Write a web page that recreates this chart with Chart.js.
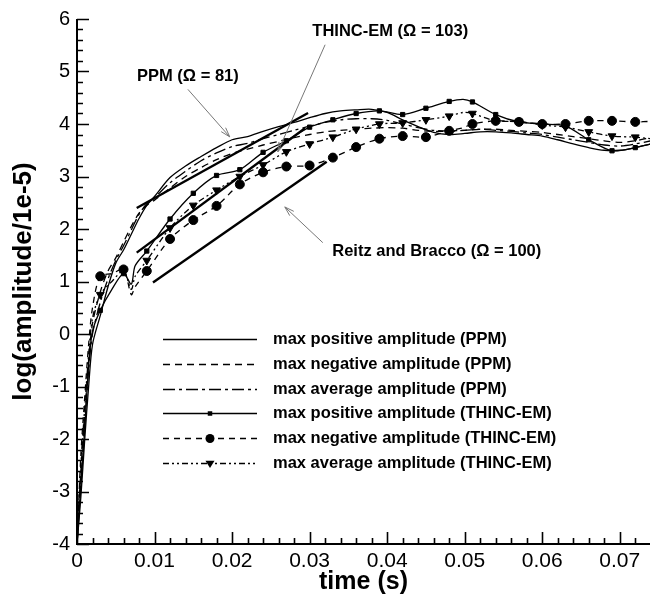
<!DOCTYPE html>
<html>
<head>
<meta charset="utf-8">
<script src="https://cdn.jsdelivr.net/npm/chart.js@4.4.1/dist/chart.umd.min.js"></script>
<style>
  html, body { margin: 0; padding: 0; background: #fff; }
  #wrap { width: 651px; height: 597px; }
</style>
</head>
<body>
<div id="wrap"><canvas id="myChart" width="651" height="597"></canvas></div>
<script>
// time (s) for the PPM curves
var ppmX = [0, 0.0005, 0.001, 0.0015, 0.002, 0.003, 0.004, 0.005, 0.006, 0.007, 0.008, 0.009, 0.010,
  0.012, 0.014, 0.016, 0.018, 0.020, 0.022, 0.024, 0.026, 0.028, 0.030, 0.032, 0.034, 0.036, 0.038,
  0.040, 0.042, 0.044, 0.046, 0.048, 0.050, 0.052, 0.054, 0.056, 0.058, 0.060, 0.062, 0.064, 0.066,
  0.068, 0.070, 0.072, 0.074];
var ppmPos = [-4, -3.1, -2.0, -1.0, -0.2, 0.35, 0.9, 1.35, 1.6, 1.9, 2.2, 2.45, 2.62,
  2.98, 3.2, 3.38, 3.55, 3.7, 3.76, 3.86, 3.95, 4.03, 4.12, 4.2, 4.25, 4.27, 4.28,
  4.22, 4.08, 3.95, 3.84, 3.8, 3.82, 3.85, 3.85, 3.83, 3.8, 3.77, 3.7, 3.62, 3.55,
  3.5, 3.5, 3.55, 3.62];
var ppmNeg = [-4, -2.6, -1.5, -0.5, 0.2, 0.8, 1.2, 1.45, 1.75, 2.05, 2.3, 2.45, 2.55,
  2.78, 3.0, 3.17, 3.32, 3.44, 3.52, 3.6, 3.67, 3.74, 3.8, 3.85, 3.88, 3.9, 3.92,
  3.93, 3.92, 3.88, 3.86, 3.86, 3.88, 3.9, 3.9, 3.88, 3.86, 3.84, 3.8, 3.76, 3.72,
  3.68, 3.65, 3.68, 3.74];
var ppmAvg = [-4, -2.8, -1.7, -0.7, 0.0, 0.6, 1.05, 1.4, 1.68, 1.98, 2.28, 2.48, 2.6,
  2.88, 3.1, 3.3, 3.45, 3.57, 3.63, 3.72, 3.8, 3.88, 3.96, 4.03, 4.08, 4.1, 4.1,
  4.07, 4.0, 3.93, 3.88, 3.87, 3.88, 3.9, 3.88, 3.86, 3.83, 3.8, 3.75, 3.7, 3.65,
  3.6, 3.58, 3.62, 3.68];

// time (s) for the THINC-EM curves (markers every 0.003 s)
var thincX = [0, 0.0005, 0.001, 0.0015, 0.002, 0.003, 0.0045, 0.006, 0.007, 0.0075, 0.009,
  0.012, 0.015, 0.018, 0.021, 0.024, 0.027, 0.030, 0.033, 0.036, 0.039, 0.042, 0.045,
  0.048, 0.0498, 0.051, 0.054, 0.057, 0.060, 0.063, 0.066, 0.069, 0.072, 0.074];
var thincPos = [-4, -2.9, -1.8, -0.6, 0.05, 0.45, 0.85, 1.15, 0.95, 1.3, 1.58,
  2.19, 2.68, 3.02, 3.13, 3.46, 3.68, 3.94, 4.08, 4.2, 4.25, 4.18, 4.3,
  4.43, 4.47, 4.42, 4.18, 4.04, 4.0, 3.96, 3.7, 3.49, 3.55, 3.62];
var thincNeg = [-4, -2.3, -1.2, -0.2, 0.5, 1.1, 1.15, 1.23, 0.75, 0.9, 1.2,
  1.81, 2.17, 2.44, 2.85, 3.08, 3.19, 3.21, 3.36, 3.56, 3.72, 3.77, 3.75,
  3.87, 3.93, 4.0, 4.06, 4.04, 4.0, 4.0, 4.06, 4.06, 4.04, 4.05];
var thincAvg = [-4, -2.5, -1.4, -0.4, 0.3, 0.75, 1.0, 1.2, 0.85, 1.1, 1.4,
  2.02, 2.45, 2.74, 3.0, 3.22, 3.47, 3.62, 3.75, 3.9, 4.0, 4.02, 4.08,
  4.15, 4.22, 4.2, 4.06, 4.05, 3.98, 3.94, 3.85, 3.77, 3.75, 3.72];

// straight growth-rate lines
var ppmFitX = [0.0077, 0.0298], ppmFitY = [2.40, 4.21];
var thincFitX = [0.0077, 0.0294], thincFitY = [1.55, 3.92];
var reitzX = [0.0098, 0.0322], reitzY = [0.98, 3.28];

var legendLabels = [
  'max positive amplitude (PPM)',
  'max negative amplitude (PPM)',
  'max average amplitude (PPM)',
  'max positive amplitude (THINC-EM)',
  'max negative amplitude (THINC-EM)',
  'max average amplitude (THINC-EM)'
];

// text notes with arrows: label position, arrow tail, arrow tip (data coords)
var notes = [
  { text: 'PPM (\u03A9 = 81)', x: 0.0143, y: 4.91, tail: [0.0143, 4.66], tip: [0.0197, 3.755] },
  { text: 'THINC-EM (\u03A9 = 103)', x: 0.0404, y: 5.77, tail: [0.0320, 5.51], tip: [0.0259, 3.47] },
  { text: 'Reitz and Bracco (\u03A9 = 100)', x: 0.0464, y: 1.57, tail: [0.0317, 1.74], tip: [0.0268, 2.42] }
];

var FONT = '"Liberation Sans", Arial, sans-serif';

function pts(xs, ys) {
  return xs.map(function (x, i) { return { x: x, y: ys[i] }; });
}
function isMarker(x) {
  var k = x / 0.003;
  return x > 0 && Math.abs(k - Math.round(k)) < 1e-6;
}
function markerSize(r) {
  return function (c) { return c.raw && isMarker(c.raw.x) ? r : 0; };
}

function curve(data, dash, style, r, rot) {
  return {
    data: data,
    showLine: true,
    borderColor: '#000',
    backgroundColor: '#000',
    borderWidth: 1.3,
    borderDash: dash,
    tension: 0.3,
    pointStyle: style || 'circle',
    pointRotation: rot || 0,
    pointRadius: style ? markerSize(r) : 0,
    pointBorderWidth: 1,
    pointBackgroundColor: '#000',
    legendMark: style ? { style: style, r: r, rot: rot || 0 } : null
  };
}
function fitLine(xs, ys) {
  return {
    data: pts(xs, ys), showLine: true, borderColor: '#000', borderWidth: 2.4,
    pointRadius: 0, tension: 0
  };
}

function drawMark(ctx, m, x, y) {
  ctx.save();
  ctx.fillStyle = '#000';
  ctx.setLineDash([]);
  ctx.beginPath();
  if (m.style === 'rect') {
    ctx.rect(x - m.r * 0.75, y - m.r * 0.75, m.r * 1.5, m.r * 1.5);
  } else if (m.style === 'triangle') {
    ctx.moveTo(x - m.r, y - m.r * 0.6);
    ctx.lineTo(x + m.r, y - m.r * 0.6);
    ctx.lineTo(x, y + m.r);
    ctx.closePath();
  } else {
    ctx.arc(x, y, m.r, 0, Math.PI * 2);
  }
  ctx.fill();
  ctx.restore();
}

var decor = {
  id: 'decor',
  afterDraw: function (chart) {
    var ctx = chart.ctx, a = chart.chartArea;
    var sx = chart.scales.x, sy = chart.scales.y;
    ctx.save();
    ctx.strokeStyle = '#000';
    ctx.setLineDash([]);

    // axes lines
    ctx.lineWidth = 2;
    ctx.beginPath();
    ctx.moveTo(a.left, a.top);
    ctx.lineTo(a.left, a.bottom);
    ctx.lineTo(a.right, a.bottom);
    ctx.stroke();

    // inward ticks, major + minor
    ctx.lineWidth = 1.6;
    ctx.beginPath();
    for (var i = 0; i <= 50; i++) {
      var v = -4 + i * 0.2;
      var py = Math.round(sy.getPixelForValue(v)) + 0.5;
      var len = i % 5 === 0 ? 12 : 6;
      ctx.moveTo(a.left, py);
      ctx.lineTo(a.left + len, py);
    }
    for (var j = 0; j <= 37; j++) {
      var px = Math.round(sx.getPixelForValue(j * 0.002)) + 0.5;
      if (px > a.right) break;
      var l2 = j % 5 === 0 ? 12 : 6;
      ctx.moveTo(px, a.bottom);
      ctx.lineTo(px, a.bottom - l2);
    }
    ctx.stroke();

    // notes and arrows
    ctx.font = 'bold 16.5px ' + FONT;
    ctx.textAlign = 'center';
    ctx.textBaseline = 'middle';
    ctx.fillStyle = '#000';
    notes.forEach(function (n) {
      ctx.fillText(n.text, sx.getPixelForValue(n.x), sy.getPixelForValue(n.y));
      var x1 = sx.getPixelForValue(n.tail[0]), y1 = sy.getPixelForValue(n.tail[1]);
      var x2 = sx.getPixelForValue(n.tip[0]), y2 = sy.getPixelForValue(n.tip[1]);
      var ang = Math.atan2(y2 - y1, x2 - x1);
      ctx.strokeStyle = '#777';
      ctx.lineWidth = 1;
      ctx.beginPath();
      ctx.moveTo(x1, y1);
      ctx.lineTo(x2, y2);
      ctx.moveTo(x2 - 10 * Math.cos(ang - 0.3), y2 - 10 * Math.sin(ang - 0.3));
      ctx.lineTo(x2, y2);
      ctx.lineTo(x2 - 10 * Math.cos(ang + 0.3), y2 - 10 * Math.sin(ang + 0.3));
      ctx.stroke();
    });

    // legend inside the plot
    ctx.textAlign = 'left';
    ctx.font = 'bold 16.5px ' + FONT;
    for (var k = 0; k < legendLabels.length; k++) {
      var ds = chart.data.datasets[k];
      var ly = Math.round(a.top + 320 + k * 24.8) + 0.5;
      var lx0 = a.left + 86, lx1 = a.left + 180;
      ctx.strokeStyle = '#000';
      ctx.lineWidth = 1.3;
      ctx.setLineDash(ds.borderDash || []);
      ctx.beginPath();
      ctx.moveTo(lx0, ly);
      ctx.lineTo(lx1, ly);
      ctx.stroke();
      ctx.setLineDash([]);
      if (ds.legendMark) drawMark(ctx, ds.legendMark, (lx0 + lx1) / 2, ly);
      ctx.fillStyle = '#000';
      ctx.fillText(legendLabels[k], a.left + 196, ly);
    }
    ctx.restore();
  }
};

var chart = new Chart(document.getElementById('myChart').getContext('2d'), {
  type: 'scatter',
  data: {
    datasets: [
      curve(pts(ppmX, ppmPos), []),
      curve(pts(ppmX, ppmNeg), [7, 5]),
      curve(pts(ppmX, ppmAvg), [12, 4, 3, 4]),
      curve(pts(thincX, thincPos), [], 'rect', 3),
      curve(pts(thincX, thincNeg), [6, 5], 'circle', 4.5),
      curve(pts(thincX, thincAvg), [6, 3, 2, 3, 2, 3], 'triangle', 4.5, 180),
      fitLine(ppmFitX, ppmFitY),
      fitLine(thincFitX, thincFitY),
      fitLine(reitzX, reitzY)
    ]
  },
  options: {
    responsive: false,
    animation: false,
    layout: { padding: { top: 14, right: 1, left: 0, bottom: 0 } },
    plugins: { legend: { display: false }, tooltip: { enabled: false } },
    scales: {
      x: {
        type: 'linear', min: 0, max: 0.0739,
        grid: { display: false, drawTicks: false },
        border: { display: false },
        ticks: {
          stepSize: 0.01, includeBounds: false, padding: 5, color: '#000',
          font: { family: FONT, size: 21 },
          callback: function (v) { return v === 0 ? '0' : v.toFixed(2); }
        },
        title: {
          display: true, text: 'time (s)', color: '#000',
          font: { family: FONT, size: 25, weight: 'bold' },
          padding: { top: 0, bottom: 0 }
        },
        afterFit: function (s) { s.height = 53; }
      },
      y: {
        type: 'linear', min: -4, max: 6,
        grid: { display: false, drawTicks: false },
        border: { display: false },
        ticks: {
          stepSize: 1, padding: 7, color: '#000',
          font: { family: FONT, size: 20 },
          callback: function (v) { return String(v); }
        },
        title: {
          display: true, text: 'log(amplitude/1e-5)', color: '#000',
          font: { family: FONT, size: 26, weight: 'bold' },
          padding: { top: 8, bottom: 0 }
        },
        afterFit: function (s) { s.width = 77; }
      }
    }
  },
  plugins: [decor]
});
</script>
</body>
</html>
